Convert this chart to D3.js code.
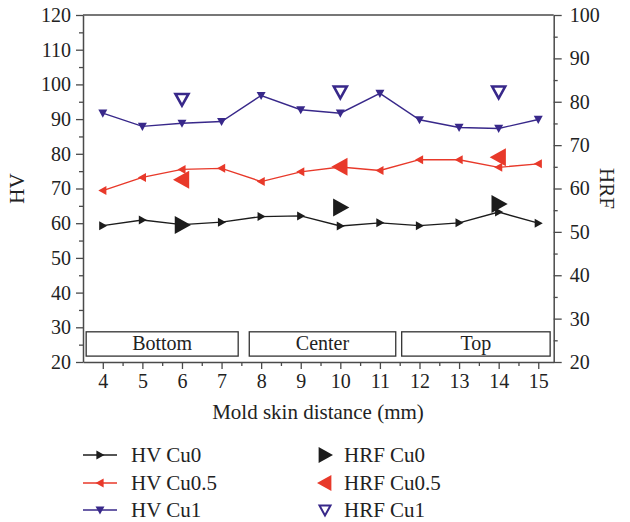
<!DOCTYPE html>
<html>
<head>
<meta charset="utf-8">
<script src="https://cdn.jsdelivr.net/npm/d3@7"></script>
<style>
  body { margin: 0; background: #fff; }
  svg, svg text { font-family: "Liberation Serif", "DejaVu Serif", serif; }
</style>
</head>
<body>
<svg id="chart" width="630" height="522"></svg>
<script>
// distances along the mold (mm)
var distance = [4, 5, 6, 7, 8, 9, 10, 11, 12, 13, 14, 15];
// hardness HV
var hvCu0  = [59.3, 60.9, 59.6, 60.3, 61.9, 62.1, 59.2, 60.1, 59.3, 60.1, 63.2, 60.0];
var hvCu05 = [69.4, 73.2, 75.5, 75.8, 72.0, 74.8, 76.2, 75.2, 78.3, 78.3, 76.1, 77.1];
var hvCu1  = [91.7, 87.9, 88.8, 89.3, 96.8, 92.7, 91.7, 97.4, 89.8, 87.6, 87.3, 89.9];
// HRF only measured at three spots
var hrfDist = [6, 10, 14];
var hrfCu0  = [51.6, 55.6, 56.4];
var hrfCu05 = [62.0, 65.0, 67.2];
var hrfCu1  = [80.6, 82.3, 82.3];
// zones
var zoneNames = ["Bottom", "Center", "Top"];
var zoneStart = [3.58, 7.7, 11.55];
var zoneEnd   = [7.42, 11.4, 15.3];

var colBlack = "#1c1c1c", colRed = "#e8392a", colBlue = "#38288a", axisCol = "#4a4a4a";
var serif = "'Liberation Serif', 'DejaVu Serif', serif";

var svg = d3.select("#chart");
var pLeft = 83, pRight = 553.7, pTop = 15, pBottom = 362;

var x = d3.scaleLinear().domain([3.5, 15.39]).range([pLeft, pRight]);
var yL = d3.scaleLinear().domain([20, 120]).range([pBottom, pTop]);
var yR = d3.scaleLinear().domain([20, 100]).range([pBottom, pTop]);

// triangle path pointing in a direction, r = half size
function tri(dir, r) {
  if (dir == "right") return "M" + (r) + ",0L" + (-r*0.8) + "," + (-r) + "L" + (-r*0.8) + "," + r + "Z";
  if (dir == "left") return "M" + (-r) + ",0L" + (r*0.8) + "," + (-r) + "L" + (r*0.8) + "," + r + "Z";
  return "M0," + r + "L" + (-r) + "," + (-r*0.8) + "L" + r + "," + (-r*0.8) + "Z";
}

// zone boxes
var zones = svg.append("g");
zoneNames.forEach(function(name, i) {
  zones.append("rect")
    .attr("x", x(zoneStart[i]))
    .attr("y", yL(28.7))
    .attr("width", x(zoneEnd[i]) - x(zoneStart[i]))
    .attr("height", yL(21.7) - yL(28.7))
    .attr("fill", "none").attr("stroke", "#333").attr("stroke-width", 1.3);
  zones.append("text")
    .attr("x", (x(zoneStart[i]) + x(zoneEnd[i])) / 2)
    .attr("y", yL(21.7) - 6)
    .attr("text-anchor", "middle")
    .attr("font-size", 20).attr("fill", "#222")
    .text(name);
});

// axes
function styleAxis(g) {
  g.attr("font-family", null).style("font-family", serif);
  g.select(".domain").attr("stroke", axisCol).attr("stroke-width", 1.5);
  g.selectAll(".tick line").attr("stroke", axisCol).attr("stroke-width", 1.3);
  g.selectAll(".tick text").attr("fill", "#222").attr("font-size", 20)
    .style("font-family", serif);
}

var xAxis = svg.append("g").attr("transform", "translate(0," + pBottom + ")")
  .call(d3.axisBottom(x).tickValues(distance).tickSize(7).tickSizeOuter(0).tickPadding(5));
styleAxis(xAxis);
svg.append("g").attr("transform", "translate(0," + pBottom + ")")
  .call(d3.axisBottom(x).tickValues(d3.range(4.5, 15, 1)).tickSize(4).tickFormat(""))
  .call(function(g) { g.select(".domain").remove(); styleAxis(g); });

var yAxisL = svg.append("g").attr("transform", "translate(" + pLeft + ",0)")
  .call(d3.axisLeft(yL).tickValues(d3.range(20, 121, 10)).tickSize(7).tickSizeOuter(0).tickPadding(5));
styleAxis(yAxisL);
svg.append("g").attr("transform", "translate(" + pLeft + ",0)")
  .call(d3.axisLeft(yL).tickValues(d3.range(25, 120, 10)).tickSize(4).tickFormat(""))
  .call(function(g) { g.select(".domain").remove(); styleAxis(g); });

var yAxisR = svg.append("g").attr("transform", "translate(" + pRight + ",0)")
  .call(d3.axisRight(yR).tickValues(d3.range(20, 101, 10)).tickSize(8).tickSizeOuter(0).tickPadding(8));
styleAxis(yAxisR);
svg.append("g").attr("transform", "translate(" + pRight + ",0)")
  .call(d3.axisRight(yR).tickValues(d3.range(25, 100, 10)).tickSize(4).tickFormat(""))
  .call(function(g) { g.select(".domain").remove(); styleAxis(g); });

// top border
svg.append("line").attr("x1", pLeft).attr("x2", pRight).attr("y1", pTop).attr("y2", pTop)
  .attr("stroke", axisCol).attr("stroke-width", 1.5);

// axis titles
svg.append("text").attr("transform", "translate(24," + ((pTop + pBottom) / 2) + ") rotate(-90)")
  .attr("text-anchor", "middle").attr("font-size", 21).attr("fill", "#222").text("HV");
svg.append("text").attr("transform", "translate(600," + ((pTop + pBottom) / 2) + ") rotate(90)")
  .attr("text-anchor", "middle").attr("font-size", 21).attr("fill", "#222").text("HRF");
svg.append("text").attr("x", 318).attr("y", 419)
  .attr("text-anchor", "middle").attr("font-size", 21).attr("fill", "#222").text("Mold skin distance (mm)");

// HV series
var hvSeries = [
  {name: "HV Cu0", vals: hvCu0, color: colBlack, dir: "right"},
  {name: "HV Cu0.5", vals: hvCu05, color: colRed, dir: "left"},
  {name: "HV Cu1", vals: hvCu1, color: colBlue, dir: "down"}
];
var line = d3.line().x(function(d) { return x(d[0]); }).y(function(d) { return yL(d[1]); });

hvSeries.forEach(function(s) {
  var pts = d3.zip(distance, s.vals);
  svg.append("path").datum(pts).attr("d", line)
    .attr("fill", "none").attr("stroke", s.color).attr("stroke-width", 1.4);
  svg.append("g").selectAll("path").data(pts).enter().append("path")
    .attr("transform", function(d) { return "translate(" + x(d[0]) + "," + yL(d[1]) + ")"; })
    .attr("d", tri(s.dir, 4.5))
    .attr("fill", s.color);
});

// HRF series
var hrfSeries = [
  {name: "HRF Cu0", vals: hrfCu0, color: colBlack, dir: "right", open: false},
  {name: "HRF Cu0.5", vals: hrfCu05, color: colRed, dir: "left", open: false},
  {name: "HRF Cu1", vals: hrfCu1, color: colBlue, dir: "down", open: true}
];
hrfSeries.forEach(function(s) {
  var pts = d3.zip(hrfDist, s.vals);
  svg.append("g").selectAll("path").data(pts).enter().append("path")
    .attr("transform", function(d) { return "translate(" + x(d[0]) + "," + yR(d[1]) + ")"; })
    .attr("d", s.open ? tri(s.dir, 6.5) : tri(s.dir, 9))
    .attr("fill", s.open ? "#fff" : s.color)
    .attr("stroke", s.open ? s.color : "none")
    .attr("stroke-width", s.open ? 2.6 : 0);
});

// legend
var legY = [455, 483, 510];
hvSeries.forEach(function(s, i) {
  var g = svg.append("g").attr("transform", "translate(0," + legY[i] + ")");
  g.append("line").attr("x1", 83).attr("x2", 117).attr("stroke", s.color).attr("stroke-width", 1.4);
  g.append("path").attr("transform", "translate(100,0)").attr("d", tri(s.dir, 4.5)).attr("fill", s.color);
  g.append("text").attr("x", 131).attr("y", 7).attr("font-size", 21).attr("fill", "#222").text(s.name);
});
hrfSeries.forEach(function(s, i) {
  var g = svg.append("g").attr("transform", "translate(0," + legY[i] + ")");
  g.append("path").attr("transform", "translate(325,0)")
    .attr("d", s.open ? tri(s.dir, 5.5) : tri(s.dir, 8))
    .attr("fill", s.open ? "#fff" : s.color)
    .attr("stroke", s.open ? s.color : "none")
    .attr("stroke-width", s.open ? 2 : 0);
  g.append("text").attr("x", 344).attr("y", 7).attr("font-size", 21).attr("fill", "#222").text(s.name);
});
</script>
</body>
</html>
